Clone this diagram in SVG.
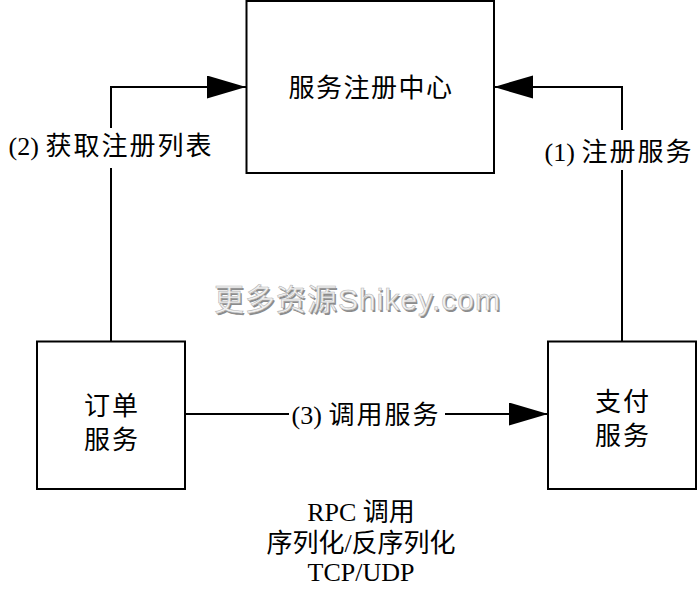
<svg xmlns="http://www.w3.org/2000/svg" width="700" height="595" viewBox="0 0 700 595">
  <style>
    .box { fill: #ffffff; stroke: #000000; stroke-width: 2; }
    .line { fill: none; stroke: #000000; stroke-width: 2; }
    .t { font-family: "Liberation Serif", "Noto Sans CJK SC", serif; font-size: 26px; fill: #000000; text-anchor: middle; dominant-baseline: central; }
    .cjk { letter-spacing: 2px; }
    .wm { font-family: "Liberation Sans", "Noto Sans CJK SC", sans-serif; font-size: 30px; text-anchor: middle; dominant-baseline: central; letter-spacing: 1px; }
  </style>
  <defs>
    <marker id="arrow" markerUnits="userSpaceOnUse" markerWidth="40" markerHeight="24" refX="39" refY="11.5" orient="auto">
      <path d="M0,0 L39,11.5 L0,23 z" fill="#000000"/>
    </marker>
  </defs>
  <rect width="700" height="595" fill="#ffffff"/>

  <!-- watermark: embossed grey lettering -->
  <g id="watermark">
    <text class="wm" x="359" y="301" fill="#8c8c8c">更多资源Shikey.com</text>
    <text class="wm" x="357.5" y="299.5" fill="#f2f2f2" stroke="#b5b5b5" stroke-width="0.6">更多资源Shikey.com</text>
  </g>

  <g id="connectors">
    <!-- (2) fetch registry list -->
    <path class="line" d="M111,341 V168 M111,128 V87 H246" marker-end="url(#arrow)"/>
    <!-- (1) register service -->
    <path class="line" d="M622,341 V170 M622,130 V87 H494" marker-end="url(#arrow)"/>
    <!-- (3) invoke service -->
    <path class="line" d="M185,414 H289"/>
    <path class="line" d="M445,414 H548" marker-end="url(#arrow)"/>
    <text class="t" x="111" y="146"><tspan>(2) </tspan><tspan class="cjk">获取注册列表</tspan></text>
    <text class="t" x="619" y="152"><tspan>(1) </tspan><tspan class="cjk">注册服务</tspan></text>
    <text class="t" x="366" y="415"><tspan>(3) </tspan><tspan class="cjk">调用服务</tspan></text>
  </g>

  <g id="registry">
    <rect class="box" x="246.5" y="1" width="247.5" height="172"/>
    <text class="t" x="371" y="88" style="letter-spacing:1.5px">服务注册中心</text>
  </g>

  <g id="order-service">
    <rect class="box" x="37" y="341.5" width="148" height="147.5"/>
    <text class="t cjk" x="112" y="406">订单</text>
    <text class="t cjk" x="112" y="440">服务</text>
  </g>

  <g id="payment-service">
    <rect class="box" x="548" y="341.5" width="148" height="147.5"/>
    <text class="t cjk" x="623" y="402">支付</text>
    <text class="t cjk" x="623" y="436">服务</text>
  </g>

  <g id="notes">
    <text class="t" x="361" y="512">RPC 调用</text>
    <text class="t" x="361" y="543">序列化/反序列化</text>
    <text class="t" x="361" y="572">TCP/UDP</text>
  </g>
</svg>
